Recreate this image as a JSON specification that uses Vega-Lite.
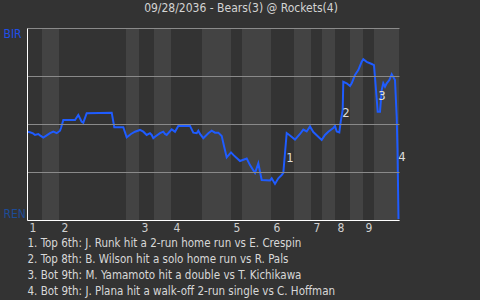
{
  "$schema": "https://vega.github.io/schema/vega-lite/v6.json",
  "width": 372,
  "height": 192,
  "autosize": {"type": "none"},
  "padding": {"left": 27, "top": 28, "right": 81, "bottom": 80},
  "background": "#333333",
  "config": {
    "view": {"stroke": null},
    "font": "DejaVu Sans Condensed, sans-serif"
  },
  "title": {
    "text": "09/28/2036 - Bears(3) @ Rockets(4)",
    "fontSize": 12,
    "fontWeight": "normal",
    "color": "#d4d4d4",
    "anchor": "middle",
    "dx": 28,
    "baseline": "alphabetic",
    "offset": 3
  },
  "datasets": {
    "halves": [
      {"x": 15, "x2": 32}, {"x": 99, "x2": 112}, {"x": 127, "x2": 144},
      {"x": 175, "x2": 204}, {"x": 215, "x2": 244}, {"x": 267, "x2": 284},
      {"x": 295, "x2": 308}, {"x": 323, "x2": 336}, {"x": 347, "x2": 372}
    ],
    "wp": [
      {"x": 0, "y": 0.46}, {"x": 3, "y": 0.457}, {"x": 6, "y": 0.451}, {"x": 8, "y": 0.443},
      {"x": 11.3, "y": 0.448}, {"x": 13, "y": 0.441}, {"x": 16.3, "y": 0.429}, {"x": 19.7, "y": 0.441},
      {"x": 23, "y": 0.452}, {"x": 26.3, "y": 0.46}, {"x": 29.7, "y": 0.452}, {"x": 33, "y": 0.465},
      {"x": 34, "y": 0.479}, {"x": 36.3, "y": 0.521}, {"x": 48, "y": 0.521}, {"x": 51.3, "y": 0.547},
      {"x": 54.7, "y": 0.512}, {"x": 56.3, "y": 0.507}, {"x": 59.7, "y": 0.556}, {"x": 84.7, "y": 0.559},
      {"x": 87.3, "y": 0.483}, {"x": 96.3, "y": 0.483}, {"x": 99.7, "y": 0.431}, {"x": 104, "y": 0.448},
      {"x": 108, "y": 0.46}, {"x": 113, "y": 0.469}, {"x": 116.3, "y": 0.46}, {"x": 119.7, "y": 0.443},
      {"x": 123, "y": 0.452}, {"x": 124.7, "y": 0.443}, {"x": 126.3, "y": 0.426}, {"x": 128, "y": 0.434},
      {"x": 133, "y": 0.452}, {"x": 136.3, "y": 0.46}, {"x": 138, "y": 0.448}, {"x": 139.7, "y": 0.443},
      {"x": 144.7, "y": 0.472}, {"x": 148, "y": 0.46}, {"x": 151.3, "y": 0.49}, {"x": 163, "y": 0.49},
      {"x": 166.3, "y": 0.455}, {"x": 169.7, "y": 0.452}, {"x": 171.3, "y": 0.465}, {"x": 173, "y": 0.448},
      {"x": 176.3, "y": 0.426}, {"x": 181.3, "y": 0.452}, {"x": 184.7, "y": 0.465}, {"x": 188, "y": 0.455},
      {"x": 191.3, "y": 0.455}, {"x": 194.7, "y": 0.438}, {"x": 197, "y": 0.385}, {"x": 199.7, "y": 0.326},
      {"x": 204, "y": 0.352}, {"x": 206.3, "y": 0.339}, {"x": 209.7, "y": 0.323}, {"x": 213, "y": 0.307},
      {"x": 219.7, "y": 0.32}, {"x": 223, "y": 0.286}, {"x": 228, "y": 0.245}, {"x": 231.3, "y": 0.295},
      {"x": 234.7, "y": 0.208}, {"x": 243, "y": 0.206}, {"x": 244.7, "y": 0.217}, {"x": 248, "y": 0.188},
      {"x": 251.3, "y": 0.217}, {"x": 254.7, "y": 0.234}, {"x": 256.3, "y": 0.245}, {"x": 258, "y": 0.349},
      {"x": 259.7, "y": 0.453}, {"x": 263, "y": 0.44}, {"x": 268, "y": 0.419}, {"x": 273, "y": 0.448},
      {"x": 276.3, "y": 0.471}, {"x": 279.7, "y": 0.461}, {"x": 283, "y": 0.487}, {"x": 286.3, "y": 0.458},
      {"x": 291.3, "y": 0.434}, {"x": 294.7, "y": 0.417}, {"x": 298, "y": 0.443}, {"x": 301.3, "y": 0.46},
      {"x": 306.3, "y": 0.479}, {"x": 308, "y": 0.49}, {"x": 309.7, "y": 0.461}, {"x": 312.3, "y": 0.456},
      {"x": 313.7, "y": 0.512}, {"x": 315.7, "y": 0.573}, {"x": 316.3, "y": 0.72}, {"x": 319.7, "y": 0.712},
      {"x": 323, "y": 0.698}, {"x": 324.7, "y": 0.712}, {"x": 328, "y": 0.755}, {"x": 331.3, "y": 0.781},
      {"x": 334.7, "y": 0.824}, {"x": 336.3, "y": 0.837}, {"x": 339.7, "y": 0.824}, {"x": 344.7, "y": 0.8125},
      {"x": 347, "y": 0.807}, {"x": 349, "y": 0.677}, {"x": 350.7, "y": 0.564}, {"x": 353, "y": 0.564},
      {"x": 354.7, "y": 0.677}, {"x": 356.3, "y": 0.712}, {"x": 358, "y": 0.694}, {"x": 359.7, "y": 0.712},
      {"x": 362.3, "y": 0.729}, {"x": 364.7, "y": 0.759}, {"x": 368, "y": 0.729}, {"x": 369.7, "y": 0.538},
      {"x": 370.5, "y": 0.365}, {"x": 371.5, "y": 0.005}
    ],
    "notes": [
      {"x": 263, "y": 0.323, "label": "1"},
      {"x": 319, "y": 0.557, "label": "2"},
      {"x": 355, "y": 0.646, "label": "3"},
      {"x": 375, "y": 0.328, "label": "4"}
    ]
  },
  "encoding": {
    "x": {
      "field": "x",
      "type": "quantitative",
      "scale": {"domain": [0, 372], "nice": false, "zero": false},
      "axis": {
        "values": [0, 32, 112, 144, 204, 244, 284, 308, 336],
        "labelExpr": "indexof([0, 32, 112, 144, 204, 244, 284, 308, 336], datum.value) + 1",
        "labelAlign": "left",
        "labelBaseline": "top",
        "labelOffset": 2,
        "labelPadding": 2,
        "labelColor": "#d0d0d0",
        "labelFontSize": 12,
        "labelFlush": false,
        "labelOverlap": false,
        "ticks": false,
        "grid": false,
        "domainColor": "#ffffff",
        "domainWidth": 1,
        "zindex": 1,
        "title": [
          "1. Top 6th: J. Runk hit a 2-run home run vs E. Crespin",
          "2. Top 8th: B. Wilson hit a solo home run vs R. Pals",
          "3. Bot 9th: M. Yamamoto hit a double vs T. Kichikawa",
          "4. Bot 9th: J. Plana hit a walk-off 2-run single vs C. Hoffman"
        ],
        "titleAnchor": "start",
        "titleAlign": "left",
        "titleBaseline": "alphabetic",
        "titleX": 0,
        "titleY": 26,
        "titleLineHeight": 16,
        "titleFontSize": 11.5,
        "titleFontWeight": "normal",
        "titleColor": "#d8d8d8"
      }
    },
    "y": {
      "field": "y",
      "type": "quantitative",
      "scale": {"domain": [0, 1], "nice": false, "zero": false},
      "axis": {
        "values": [0, 0.25, 0.5, 0.75, 1],
        "labelExpr": "datum.value == 1 ? 'BIR' : datum.value == 0 ? 'REN' : ''",
        "labelColor": {"condition": {"test": "datum.value == 1", "value": "#1f4fe8"}, "value": "#1d4c98"},
        "labelAlign": "left",
        "labelPadding": 24,
        "labelFlush": true,
        "labelFontSize": 12,
        "ticks": false,
        "grid": true,
        "gridColor": "#8a8a8a",
        "gridWidth": 1,
        "domainColor": "#ffffff",
        "domainWidth": 1,
        "zindex": 1,
        "title": null
      }
    }
  },
  "layer": [
    {
      "data": {"name": "halves"},
      "mark": {"type": "rect", "color": "#434343"},
      "encoding": {
        "x2": {"field": "x2"},
        "y": {"value": 0},
        "y2": {"value": "height"}
      }
    },
    {
      "data": {"name": "wp"},
      "mark": {"type": "line", "color": "#1f5cff", "strokeWidth": 2},
      "encoding": {}
    },
    {
      "data": {"name": "notes"},
      "mark": {"type": "text", "fontSize": 13, "color": "#dddddd", "align": "center", "baseline": "middle"},
      "encoding": {"text": {"field": "label"}}
    }
  ]
}
